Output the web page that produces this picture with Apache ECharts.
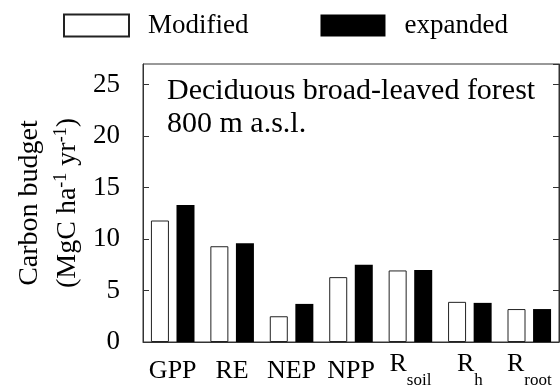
<!DOCTYPE html>
<html>
<head>
<meta charset="utf-8">
<script src="https://cdn.jsdelivr.net/npm/echarts@6/dist/echarts.min.js"></script>
<style>
  html, body { margin: 0; padding: 0; background: #fff; }
  #chart { width: 560px; height: 385px; }
</style>
</head>
<body>
<div id="chart"></div>
<script>
// categories (subscript after "_")
const categories = ["GPP", "RE", "NEP", "NPP", "R_soil", "R_h", "R_root"];
// carbon budget, MgC ha-1 yr-1
const modified = [11.8, 9.3, 2.5, 6.3, 6.95, 3.9, 3.2];
const expanded = [13.3, 9.6, 3.7, 7.5, 7.0, 3.8, 3.2];
const seriesNames = ["Modified", "expanded"];

const FONT = '"Liberation Serif", "Times New Roman", serif';
const chart = echarts.init(document.getElementById("chart"));

const option = {
  animation: false,
  backgroundColor: "#fff",
  title: {
    text: "Deciduous broad-leaved forest\n800 m a.s.l.",
    left: 167,
    top: 75,
    padding: 0,
    textStyle: {
      fontFamily: FONT,
      fontSize: 30,
      fontWeight: "normal",
      lineHeight: 33,
      color: "#000",
    },
  },
  legend: {
    data: seriesNames,
    left: 63,
    top: 12,
    padding: 0,
    icon: "rect",
    itemWidth: 65,
    itemHeight: 22,
    itemGap: 72,
    textStyle: {
      fontFamily: FONT,
      fontSize: 27,
      color: "#000",
      padding: [0, 0, 0, 14],
    },
  },
  grid: {
    left: 143,
    right: 1,
    top: 64,
    bottom: 43,
    outerBoundsMode: "none",
    containLabel: false,
    show: true,
    borderColor: "#333",
    borderWidth: 1,
  },
  xAxis: {
    type: "category",
    data: categories,
    axisLine: { lineStyle: { color: "#333", width: 1 } },
    axisTick: { show: false },
    axisLabel: {
      interval: 0,
      margin: 9,
      color: "#000",
      fontFamily: FONT,
      formatter: (v) => {
        const p = v.split("_");
        if (p.length === 1) return "{n|" + v + "}";
        return "{m|" + p[0] + "}{s|" + p[1] + "}";
      },
      rich: {
        n: { fontFamily: FONT, fontSize: 26, lineHeight: 28, padding: [7, 0, 0, 0], verticalAlign: "top" },
        m: { fontFamily: FONT, fontSize: 26, lineHeight: 28, verticalAlign: "top" },
        s: { fontFamily: FONT, fontSize: 17, lineHeight: 20, padding: [21, 0, 0, 0], verticalAlign: "top" },
      },
    },
  },
  yAxis: [
    {
      type: "value",
      min: 0,
      max: 27,
      interval: 5,
      position: "left",
      name: "{a|Carbon budget}\n{b|(MgC ha}{sup|-1}{b| yr}{sup|-1}{b|)}",
      nameLocation: "middle",
      nameRotate: 90,
      nameGap: 68,
      nameTextStyle: {
        rich: {
          a: { fontFamily: FONT, fontSize: 28, lineHeight: 30, color: "#000" },
          b: { fontFamily: FONT, fontSize: 28, lineHeight: 30, padding: [9, 0, 0, 0], verticalAlign: "top", color: "#000" },
          sup: { fontFamily: FONT, fontSize: 18, lineHeight: 20, padding: [7, 0, 0, 0], verticalAlign: "top", color: "#000" },
        },
      },
      axisLine: { show: true, lineStyle: { color: "#333", width: 1 } },
      axisTick: { show: true, inside: true, length: 6, lineStyle: { color: "#333" } },
      axisLabel: {
        margin: 23,
        color: "#000",
        fontFamily: FONT,
        fontSize: 27,
        showMaxLabel: false,
      },
      splitLine: { show: false },
    },
    {
      type: "value",
      min: 0,
      max: 27,
      interval: 5,
      position: "right",
      axisLine: { show: true, lineStyle: { color: "#333", width: 1 } },
      axisTick: { show: true, inside: true, length: 6, lineStyle: { color: "#333" } },
      axisLabel: { show: false },
      splitLine: { show: false },
    },
  ],
  series: [
    {
      name: seriesNames[0],
      type: "bar",
      data: modified,
      barWidth: 18,
      barGap: "42%",
      itemStyle: { color: "#fff", borderColor: "#222", borderWidth: 1 },
    },
    {
      name: seriesNames[1],
      type: "bar",
      data: expanded,
      barWidth: 18,
      itemStyle: { color: "#000", borderColor: "#000", borderWidth: 0 },
    },
  ],
};

chart.setOption(option);
</script>
</body>
</html>
